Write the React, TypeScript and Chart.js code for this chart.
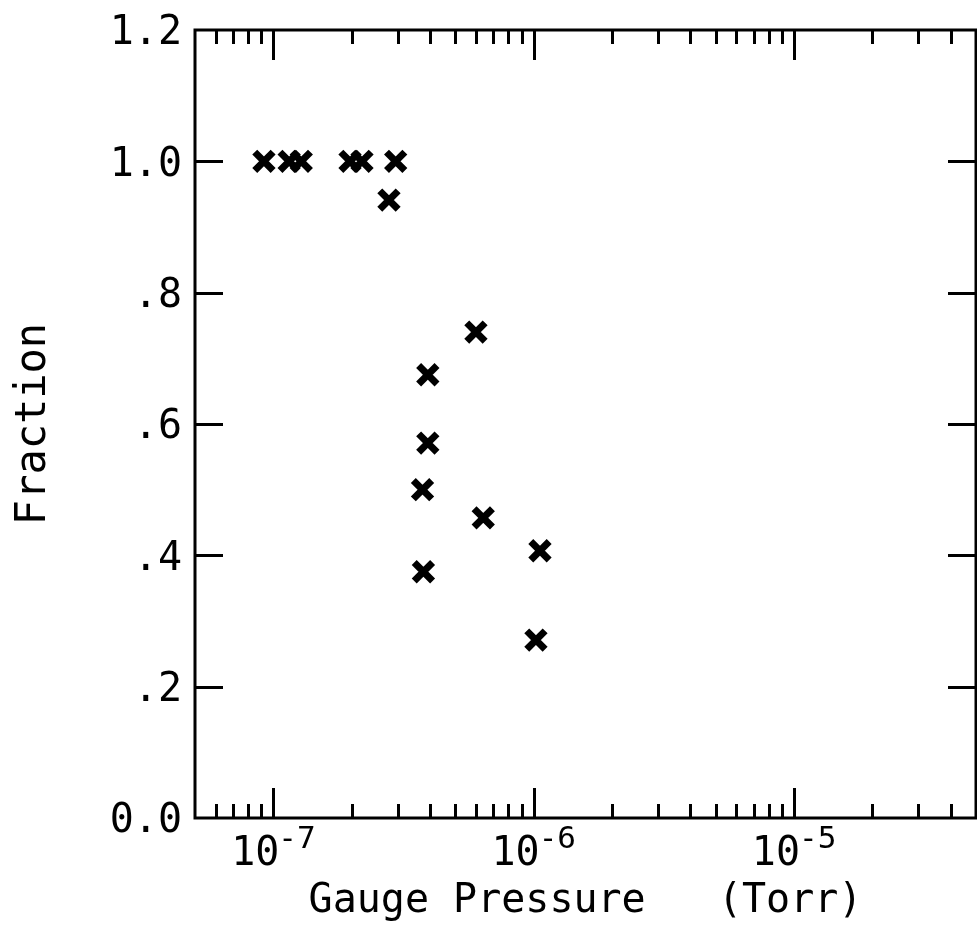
import React, { useEffect, useRef } from 'react';
import { Chart, registerables } from 'chart.js';

Chart.register(...registerables);

// Gauge pressure (Torr) of each measurement
const pressureTorr = [
  9.2e-8, 1.15e-7, 1.28e-7, 1.97e-7, 2.19e-7, 2.95e-7, 2.78e-7,
  6.0e-7, 3.92e-7, 3.92e-7, 3.74e-7, 6.4e-7, 1.057e-6, 3.77e-7, 1.02e-6,
];
// Fraction for each measurement
const fraction = [
  1.0, 1.0, 1.0, 1.0, 1.0, 1.0, 0.941,
  0.74, 0.675, 0.571, 0.5, 0.457, 0.407, 0.375, 0.271,
];

const yTickValues = [0, 0.2, 0.4, 0.6, 0.8, 1.0, 1.2];
const yTickLabels = ['0.0', '.2', '.4', '.6', '.8', '1.0', '1.2'];
const xMajorExponents = [-7, -6, -5];
const xMin = 5e-8;
const xMax = 5e-5;
const yMin = 0;
const yMax = 1.2;

const xTitle = 'Gauge Pressure   (Torr)';
const yTitle = 'Fraction';

const FONT = '"DejaVu Sans Mono", monospace';

const zeroPadding = (scale: any) => {
  scale.paddingTop = 0;
  scale.paddingBottom = 0;
  scale.paddingLeft = 0;
  scale.paddingRight = 0;
};

const framePlugin = {
  id: 'framePlugin',
  afterDraw(chart: any) {
    const { ctx, chartArea } = chart;
    const { left, right, top, bottom } = chartArea;
    const xs = chart.scales.x;
    const ys = chart.scales.y;
    ctx.save();
    ctx.strokeStyle = '#000';
    ctx.lineWidth = 3;
    ctx.lineCap = 'butt';
    ctx.strokeRect(left, top, right - left, bottom - top);

    ctx.beginPath();
    for (let e = -8; e <= -5; e++) {
      for (let m = 1; m <= 9; m++) {
        const v = m * Math.pow(10, e);
        if (v <= xMin * 1.0001 || v >= xMax * 0.9999) continue;
        const px = Math.round(xs.getPixelForValue(v)) + 0.5;
        const len = m === 1 ? 30 : 14;
        ctx.moveTo(px, top);
        ctx.lineTo(px, top + len);
        ctx.moveTo(px, bottom);
        ctx.lineTo(px, bottom - len);
      }
    }
    for (const v of yTickValues) {
      if (v <= yMin || v >= yMax) continue;
      const py = Math.round(ys.getPixelForValue(v)) + 0.5;
      ctx.moveTo(left, py);
      ctx.lineTo(left + 28, py);
      ctx.moveTo(right, py);
      ctx.lineTo(right - 28, py);
    }
    ctx.stroke();

    ctx.fillStyle = '#000';
    for (const e of xMajorExponents) {
      const px = xs.getPixelForValue(Math.pow(10, e));
      ctx.font = `40px ${FONT}`;
      ctx.textAlign = 'right';
      ctx.textBaseline = 'alphabetic';
      ctx.fillText('10', px + 6, bottom + 47);
      ctx.font = `31px ${FONT}`;
      ctx.textAlign = 'left';
      ctx.fillText(String(e), px + 5, bottom + 30);
    }
    ctx.restore();
  },
};

export default function App() {
  const canvasRef = useRef<HTMLCanvasElement | null>(null);

  useEffect(() => {
    const canvas = canvasRef.current;
    if (!canvas) return;
    const data = pressureTorr.map((p, i) => ({ x: p, y: fraction[i] }));
    const chart = new Chart(canvas, {
      type: 'scatter',
      data: {
        datasets: [
          {
            data,
            pointStyle: 'crossRot',
            pointRadius: 13,
            pointBorderWidth: 7,
            borderColor: '#000',
            backgroundColor: '#000',
            showLine: false,
          },
        ],
      },
      options: {
        animation: false,
        responsive: false,
        devicePixelRatio: 1,
        layout: { autoPadding: false, padding: { top: 30, right: 1, left: 0, bottom: 0 } },
        plugins: {
          legend: { display: false },
          tooltip: { enabled: false },
        },
        scales: {
          x: {
            type: 'logarithmic',
            min: xMin,
            max: xMax,
            grid: { display: false, drawTicks: false },
            border: { display: false },
            ticks: { display: false },
            title: {
              display: true,
              text: xTitle,
              color: '#000',
              font: { family: FONT, size: 40 },
              padding: { top: 0, bottom: 0 },
            },
            afterFit: (scale: any) => {
              scale.height = 108;
              zeroPadding(scale);
            },
          },
          y: {
            type: 'linear',
            min: yMin,
            max: yMax,
            grid: { display: false, drawTicks: false },
            border: { display: false },
            afterBuildTicks: (scale: any) => {
              scale.ticks = yTickValues.map((v) => ({ value: v }));
            },
            ticks: {
              color: '#000',
              font: { family: FONT, size: 40 },
              padding: 13,
              labelOffset: 4,
              callback: (_v: any, i: number) => yTickLabels[i],
            },
            title: {
              display: true,
              text: yTitle,
              color: '#000',
              font: { family: FONT, size: 42 },
              padding: { top: 9, bottom: 0 },
            },
            afterFit: (scale: any) => {
              scale.width = 195;
              zeroPadding(scale);
            },
          },
        },
      },
      plugins: [framePlugin],
    });
    return () => chart.destroy();
  }, []);

  return (
    <div style={{ position: 'absolute', left: 0, top: 0, width: 977, height: 926, background: '#fff' }}>
      <canvas ref={canvasRef} width={977} height={926} style={{ display: 'block' }} />
    </div>
  );
}
